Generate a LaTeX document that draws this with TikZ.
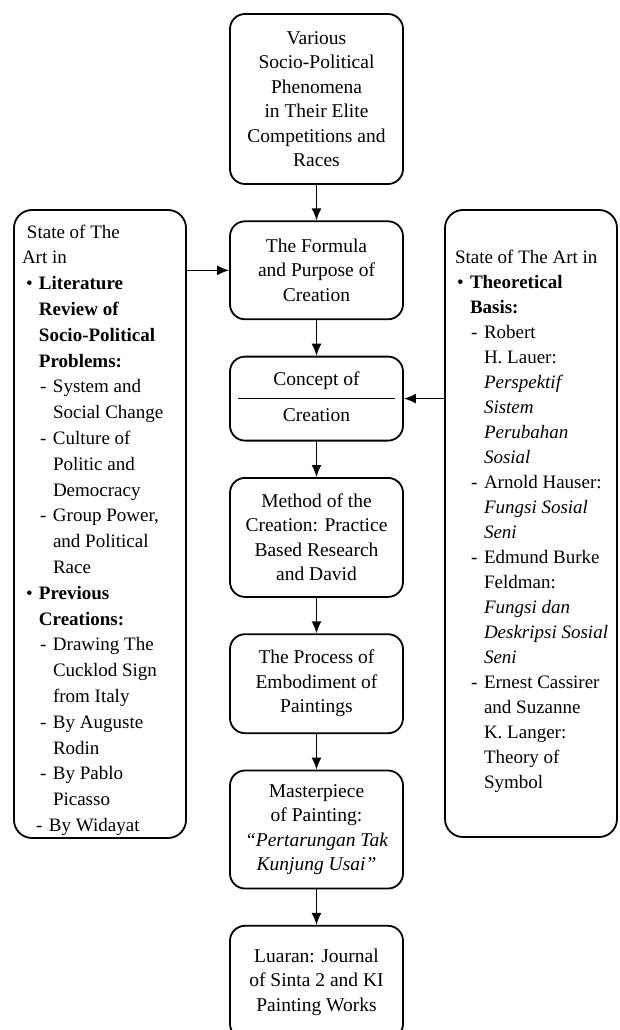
\documentclass[tikz,border=0pt]{standalone}
\usepackage{fontspec}
\setmainfont{Liberation Serif}
\usetikzlibrary{positioning,arrows.meta}

\tikzstyle{flowbox} = [draw=black, line width=1.8pt, rectangle, rounded corners=15pt,
    minimum width=173pt, inner ysep=3pt, align=center, font=\fontsize{19.5}{24.5}\selectfont]
\tikzstyle{sidebox} = [draw=black, line width=1.8pt, rectangle, rounded corners=18pt,
    inner xsep=8pt, inner ysep=0pt]
\tikzstyle{flowarrow} = [line width=1.4pt, -{Latex[length=12pt,width=10pt]}]

\newcommand{\bul}[1]{\hspace*{4pt}\makebox[13pt][l]{\textbullet}\textbf{#1}}
\newcommand{\bulcont}[1]{\hspace*{17pt}\textbf{#1}}
\newcommand{\dashitem}[1]{\hspace*{18pt}\makebox[13pt][l]{-}#1}
\newcommand{\dashcont}[1]{\hspace*{31pt}#1}

\begin{document}
\begin{tikzpicture}
\useasboundingbox (0pt,0pt) rectangle (619pt,-1030pt);

\node [flowbox, minimum height=170pt] (various) at (316.5pt,-99pt)
    {Various\\Socio-Political\\Phenomena\\in Their Elite\\Competitions and\\Races};
\node [flowbox, minimum height=98pt, below=35.5pt of various] (formula)
    {The Formula\\and Purpose of\\Creation};
\node [flowbox, minimum height=84pt, below=35.5pt of formula] (concept) {};
\node [font=\fontsize{19.5}{24.5}\selectfont] (concepttop) at ([yshift=18pt]concept.center) {Concept of};
\node [font=\fontsize{19.5}{24.5}\selectfont] (conceptbottom) at ([yshift=-17pt]concept.center) {Creation};
\draw [line width=1.5pt] ([xshift=9pt]concept.west) -- ([xshift=-9pt]concept.east);
\node [flowbox, minimum height=119pt, below=35.5pt of concept] (method)
    {Method of the\\Creation: Practice\\Based Research\\and David};
\node [flowbox, minimum height=99pt, below=35.5pt of method] (process)
    {The Process of\\Embodiment of\\Paintings};
\node [flowbox, minimum height=118pt, below=35.5pt of process] (masterpiece)
    {Masterpiece\\of Painting:\\{\itshape ``Pertarungan Tak}\\{\itshape Kunjung Usai''}};
\node [flowbox, minimum height=113pt, below=35.5pt of masterpiece] (luaran)
    {Luaran: Journal\\of Sinta 2 and KI\\Painting Works};

\node [sidebox] (artleft) at (100pt,-524pt) {%
    \begin{minipage}[c][628pt][t]{156pt}
        \raggedright\fontsize{19}{25.8}\selectfont
        \rule{0pt}{28pt}\hspace*{5pt}State of The\\
        Art in\\
        \bul{Literature}\\
        \bulcont{Review of}\\
        \bulcont{Socio-Political}\\
        \bulcont{Problems:}\\
        \dashitem{System and}\\
        \dashcont{Social Change}\\
        \dashitem{Culture of}\\
        \dashcont{Politic and}\\
        \dashcont{Democracy}\\
        \dashitem{Group Power,}\\
        \dashcont{and Political}\\
        \dashcont{Race}\\
        \bul{Previous}\\
        \bulcont{Creations:}\\
        \dashitem{Drawing The}\\
        \dashcont{Cucklod Sign}\\
        \dashcont{from Italy}\\
        \dashitem{By Auguste}\\
        \dashcont{Rodin}\\
        \dashitem{By Pablo}\\
        \dashcont{Picasso}\\
        \hspace*{-4pt}\dashitem{By Widayat}
    \end{minipage}
};

\node [sidebox] (artright) at (531pt,-523.5pt) {%
    \begin{minipage}[c][627pt][t]{156pt}
        \raggedright\fontsize{19}{25}\selectfont
        \rule{0pt}{53pt}\hspace*{2pt}State of The Art in\\
        \bul{Theoretical}\\
        \bulcont{Basis:}\\
        \dashitem{Robert}\\
        \dashcont{H. Lauer:}\\
        \dashcont{\textit{Perspektif}}\\
        \dashcont{\textit{Sistem}}\\
        \dashcont{\textit{Perubahan}}\\
        \dashcont{\textit{Sosial}}\\
        \dashitem{Arnold Hauser:}\\
        \dashcont{\textit{Fungsi Sosial}}\\
        \dashcont{\textit{Seni}}\\
        \dashitem{Edmund Burke}\\
        \dashcont{Feldman:}\\
        \dashcont{\textit{Fungsi dan}}\\
        \dashcont{\textit{Deskripsi Sosial}}\\
        \dashcont{\textit{Seni}}\\
        \dashitem{Ernest Cassirer}\\
        \dashcont{and Suzanne}\\
        \dashcont{K. Langer:}\\
        \dashcont{Theory of}\\
        \dashcont{Symbol}
    \end{minipage}
};

\draw [flowarrow] (various) -- (formula);
\draw [flowarrow] (formula) -- (concept);
\draw [flowarrow] (concept) -- (method);
\draw [flowarrow] (method) -- (process);
\draw [flowarrow] (process) -- (masterpiece);
\draw [flowarrow] (masterpiece) -- (luaran);
\draw [flowarrow] (artleft.east |- formula.west) -- (formula.west);
\draw [flowarrow] (artright.west |- concept.east) -- (concept.east);
\end{tikzpicture}
\end{document}
